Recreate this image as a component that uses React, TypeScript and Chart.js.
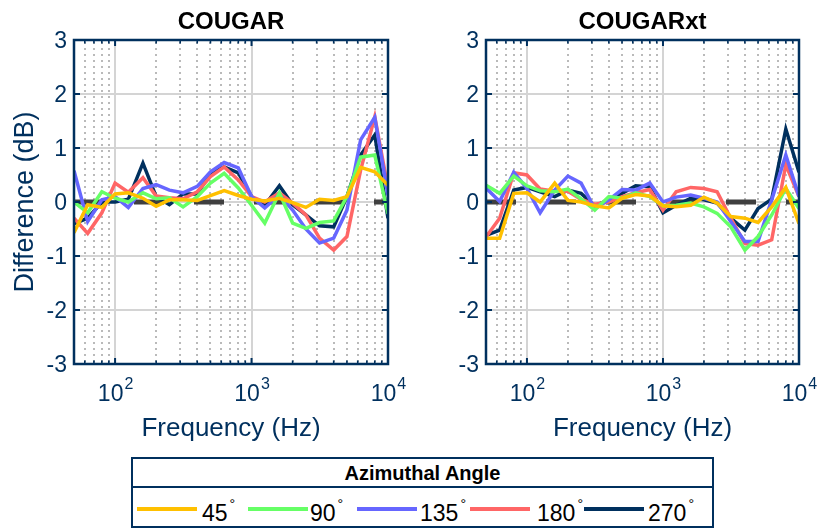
import React, { useEffect, useRef } from "react";
import { Chart, registerables } from "chart.js";
Chart.register(...registerables);

// ---------- data ----------
const freqs = [50, 63, 80, 100, 125, 160, 200, 250, 315, 400, 500, 630, 800, 1000, 1250, 1600, 2000, 2500, 3150, 4000, 5000, 6300, 8000, 10000];
const angleLabels = ["45", "90", "135", "180", "270"];
const angleColors = ["#FFC000", "#66FF66", "#6666FF", "#FF6666", "#00305E"];

// COUGAR
const cougar45 = [-0.57, -0.05, -0.1, 0.15, 0.17, 0.07, -0.08, 0.04, 0.04, 0.03, 0.12, 0.21, 0.12, 0.05, 0.02, 0.07, -0.01, -0.1, 0.05, 0.03, 0.1, 0.64, 0.56, 0.31];
const cougar90 = [0.0, -0.2, 0.19, 0.07, 0.0, 0.17, 0.06, 0.08, -0.09, 0.1, 0.35, 0.53, 0.26, -0.06, -0.39, 0.17, -0.39, -0.49, -0.38, -0.35, 0.1, 0.83, 0.87, -0.22];
const cougar135 = [0.58, -0.36, 0.04, 0.1, -0.1, 0.25, 0.32, 0.22, 0.17, 0.29, 0.56, 0.73, 0.63, 0.1, -0.11, 0.13, -0.15, -0.5, -0.76, -0.67, -0.15, 1.15, 1.57, 0.12];
const cougar180 = [-0.3, -0.58, -0.2, 0.35, 0.18, 0.45, 0.11, 0.08, 0.06, 0.19, 0.47, 0.65, 0.41, 0.1, 0.0, 0.17, -0.02, -0.24, -0.67, -0.89, -0.64, 0.59, 1.58, 0.25];
const cougar270 = [-0.4, -0.3, 0.0, 0.0, 0.05, 0.72, 0.1, -0.05, 0.15, 0.15, 0.53, 0.65, 0.54, 0.1, -0.06, 0.3, -0.05, -0.24, -0.44, -0.46, 0.1, 0.87, 1.24, -0.3];

// COUGARxt
const xt45 = [-0.67, -0.67, 0.16, 0.17, 0.0, 0.35, 0.03, 0.0, -0.07, -0.11, 0.07, 0.14, 0.11, -0.07, -0.09, -0.06, 0.09, -0.02, -0.27, -0.3, -0.38, -0.09, 0.27, -0.4];
const xt90 = [0.31, 0.16, 0.48, 0.3, 0.21, 0.19, 0.24, 0.06, -0.15, 0.1, 0.07, 0.17, 0.1, -0.07, -0.06, -0.02, -0.09, -0.21, -0.46, -0.89, -0.64, -0.24, 0.25, -0.12];
const xt135 = [0.26, 0.01, 0.55, 0.25, -0.2, 0.22, 0.48, 0.35, -0.12, 0.04, 0.23, 0.22, 0.35, 0.0, 0.09, 0.13, 0.07, 0.0, -0.36, -0.73, -0.73, 0.04, 0.87, 0.1];
const xt180 = [-0.65, -0.3, 0.54, 0.5, 0.24, 0.2, 0.2, 0.05, -0.04, 0.0, 0.1, 0.17, 0.23, -0.15, 0.19, 0.27, 0.25, 0.19, -0.3, -0.77, -0.8, -0.7, 0.69, 0.1];
const xt270 = [-0.62, -0.52, 0.22, 0.27, 0.19, 0.1, 0.22, 0.16, -0.07, 0.04, 0.16, 0.3, 0.28, -0.2, -0.06, 0.07, 0.04, -0.02, -0.3, -0.52, -0.12, 0.05, 1.35, 0.55];

const referenceLevel = [0, 0];
const referenceFreqs = [50, 10000];

const yTickValues = [-3, -2, -1, 0, 1, 2, 3];
const xDecades = [100, 1000, 10000];
const xMinorTicks = [60, 70, 80, 90, 200, 300, 400, 500, 600, 700, 800, 900, 2000, 3000, 4000, 5000, 6000, 7000, 8000, 9000];

const FONT = '"Liberation Sans", Arial, Helvetica, sans-serif';
const NAVY = "#00305E";

type PanelSpec = {
  title: string;
  series: number[][];
  left: number;
  right: number;
  showYTitle: boolean;
};

const TOP = 40;
const BOTTOM = 364;
const W = 821;
const H = 529;

function makePlugin(spec: PanelSpec) {
  return {
    id: "matlabAxes",
    beforeDatasetsDraw(chart: any) {
      const { ctx, chartArea: a, scales } = chart;
      const x = scales.x;
      const y = scales.y;
      ctx.save();
      // minor dotted grid
      ctx.strokeStyle = "#bababa";
      ctx.lineWidth = 2;
      ctx.setLineDash([2, 4]);
      for (const f of xMinorTicks) {
        const px = Math.round(x.getPixelForValue(f));
        ctx.beginPath();
        ctx.moveTo(px, a.top + 2);
        ctx.lineTo(px, a.bottom);
        ctx.stroke();
      }
      ctx.setLineDash([]);
      ctx.strokeStyle = "#d4d4d4";
      ctx.lineWidth = 2;
      for (const f of xDecades) {
        const px = Math.round(x.getPixelForValue(f));
        ctx.beginPath();
        ctx.moveTo(px, a.top);
        ctx.lineTo(px, a.bottom);
        ctx.stroke();
      }
      for (const v of yTickValues) {
        const py = Math.round(y.getPixelForValue(v));
        ctx.beginPath();
        ctx.moveTo(a.left, py);
        ctx.lineTo(a.right, py);
        ctx.stroke();
      }
      ctx.restore();
    },
    afterDraw(chart: any) {
      const { ctx, chartArea: a, scales } = chart;
      const x = scales.x;
      const y = scales.y;
      ctx.save();
      ctx.strokeStyle = NAVY;
      ctx.lineWidth = 2.5;
      ctx.strokeRect(a.left, a.top, a.right - a.left, a.bottom - a.top);
      // ticks
      ctx.lineWidth = 2;
      for (const f of xDecades) {
        const px = x.getPixelForValue(f);
        ctx.beginPath();
        ctx.moveTo(px, a.bottom);
        ctx.lineTo(px, a.bottom - 6);
        ctx.moveTo(px, a.top);
        ctx.lineTo(px, a.top + 6);
        ctx.stroke();
      }
      ctx.lineWidth = 1.6;
      for (const f of xMinorTicks) {
        const px = x.getPixelForValue(f);
        ctx.beginPath();
        ctx.moveTo(px, a.bottom);
        ctx.lineTo(px, a.bottom - 3.5);
        ctx.moveTo(px, a.top);
        ctx.lineTo(px, a.top + 3.5);
        ctx.stroke();
      }
      ctx.lineWidth = 2;
      for (const v of yTickValues) {
        const py = y.getPixelForValue(v);
        ctx.beginPath();
        ctx.moveTo(a.left, py);
        ctx.lineTo(a.left + 6, py);
        ctx.moveTo(a.right, py);
        ctx.lineTo(a.right - 6, py);
        ctx.stroke();
      }
      // y tick labels
      ctx.fillStyle = NAVY;
      ctx.font = `23px ${FONT}`;
      ctx.textAlign = "right";
      ctx.textBaseline = "middle";
      for (const v of yTickValues) {
        const py = y.getPixelForValue(v);
        ctx.fillText(String(v), a.left - 7, py + 2);
      }
      // x tick labels 10^n
      ctx.textBaseline = "alphabetic";
      ctx.textAlign = "left";
      for (const f of xDecades) {
        const px = x.getPixelForValue(f);
        const exp = String(Math.round(Math.log10(f)));
        ctx.font = `23px ${FONT}`;
        const w10 = ctx.measureText("10").width;
        ctx.font = `16px ${FONT}`;
        const we = ctx.measureText(exp).width;
        const start = px - (w10 + we) / 2;
        ctx.font = `23px ${FONT}`;
        ctx.fillText("10", start, 401);
        ctx.font = `16px ${FONT}`;
        ctx.fillText(exp, start + w10 + 1, 389);
      }
      // x axis title
      ctx.font = `26px ${FONT}`;
      ctx.textAlign = "center";
      ctx.fillText("Frequency (Hz)", (a.left + a.right) / 2, 436);
      // y axis title
      if (spec.showYTitle) {
        ctx.save();
        ctx.translate(33, (a.top + a.bottom) / 2);
        ctx.rotate(-Math.PI / 2);
        ctx.textAlign = "center";
        ctx.font = `27px ${FONT}`;
        ctx.fillText("Difference (dB)", 0, 0);
        ctx.restore();
      }
      // title
      ctx.fillStyle = "#000";
      ctx.font = `bold 24px ${FONT}`;
      ctx.textAlign = "center";
      ctx.fillText(spec.title, (a.left + a.right) / 2, 29);
      ctx.restore();
    },
  };
}

function Panel({ spec }: { spec: PanelSpec }) {
  const ref = useRef<HTMLCanvasElement | null>(null);
  useEffect(() => {
    if (!ref.current) return;
    const toPts = (vals: number[], fs: number[]) => vals.map((v, i) => ({ x: fs[i], y: v }));
    const datasets: any[] = spec.series.map((vals, i) => ({
      label: angleLabels[i],
      data: toPts(vals, freqs),
      borderColor: angleColors[i],
      backgroundColor: angleColors[i],
      borderWidth: 3.5,
      pointRadius: 0,
      tension: 0,
      fill: false,
    }));
    datasets.push({
      label: "reference",
      data: toPts(referenceLevel, referenceFreqs),
      borderColor: "#3f3f3f",
      borderWidth: 5,
      borderDash: [30, 30],
      borderCapStyle: "butt",
      pointRadius: 0,
      fill: false,
    });
    const chart = new Chart(ref.current, {
      type: "line",
      data: { datasets },
      options: {
        responsive: false,
        animation: false,
        events: [],
        layout: {
          padding: { left: spec.left, right: W - spec.right, top: TOP, bottom: H - BOTTOM },
        },
        scales: {
          x: { type: "logarithmic", min: 50, max: 10000, display: false },
          y: { type: "linear", min: -3, max: 3, display: false },
        },
        plugins: { legend: { display: false }, tooltip: { enabled: false } },
      },
      plugins: [makePlugin(spec)],
    });
    return () => chart.destroy();
  }, [spec]);
  return (
    <canvas
      ref={ref}
      width={W}
      height={H}
      style={{ position: "absolute", left: 0, top: 0, width: W, height: H }}
    />
  );
}

const leftSpec: PanelSpec = {
  title: "COUGAR",
  series: [cougar45, cougar90, cougar135, cougar180, cougar270],
  left: 74,
  right: 388,
  showYTitle: true,
};
const rightSpec: PanelSpec = {
  title: "COUGARxt",
  series: [xt45, xt90, xt135, xt180, xt270],
  left: 486,
  right: 799,
  showYTitle: false,
};

const legendLineX = [6, 117, 226, 339, 453];
const legendTextX = [71, 179, 289, 406, 517];

function Legend() {
  return (
    <div
      style={{
        position: "absolute",
        left: 131,
        top: 457,
        width: 583,
        height: 71,
        border: `2px solid ${NAVY}`,
        boxSizing: "border-box",
        background: "#fff",
        fontFamily: FONT,
      }}
    >
      <div
        style={{
          height: 29,
          borderBottom: `2px solid ${NAVY}`,
          boxSizing: "border-box",
          display: "flex",
          alignItems: "center",
          justifyContent: "center",
          fontWeight: "bold",
          fontSize: 20,
          color: "#000",
          paddingTop: 2,
        }}
      >
        Azimuthal Angle
      </div>
      {angleLabels.map((lab, i) => (
        <React.Fragment key={lab}>
          <div
            style={{
              position: "absolute",
              left: legendLineX[i] - 2,
              top: 48,
              width: 60,
              height: 4,
              background: angleColors[i],
            }}
          />
          <div
            style={{
              position: "absolute",
              left: legendTextX[i] - 2,
              top: 43,
              fontSize: 23,
              lineHeight: "23px",
              color: "#000",
              whiteSpace: "nowrap",
            }}
          >
            {lab}
            <span style={{ fontSize: 14, position: "relative", top: -12, marginLeft: 2 }}>°</span>
          </div>
        </React.Fragment>
      ))}
    </div>
  );
}

export default function App() {
  return (
    <div style={{ position: "absolute", left: 0, top: 0, width: W, height: H, background: "#fff", overflow: "hidden" }}>
      <Panel spec={leftSpec} />
      <Panel spec={rightSpec} />
      <Legend />
    </div>
  );
}
